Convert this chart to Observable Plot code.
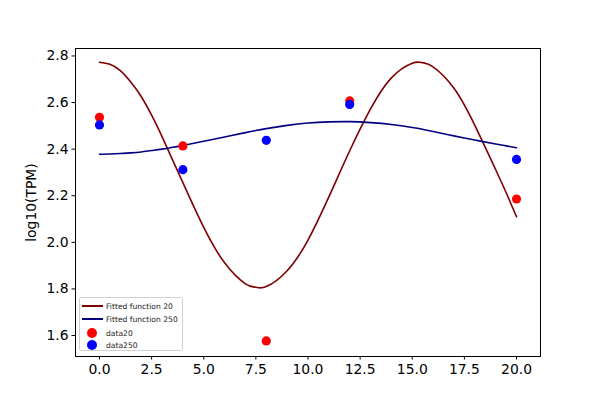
<!DOCTYPE html>
<html>
<head>
<meta charset="utf-8">
<script src="https://cdn.jsdelivr.net/npm/d3@7"></script>
<script src="https://cdn.jsdelivr.net/npm/@observablehq/plot@0.6"></script>
<style>
  html, body { margin: 0; padding: 0; background: #fff; }
  #wrap { position: relative; width: 600px; height: 400px; font-family: "DejaVu Sans", sans-serif; }
  #legend {
    position: absolute; left: 79px; top: 297px; width: 104px; height: 54px;
    border: 1px solid #d0d0d0; border-radius: 2px; background: rgba(255,255,255,0.8);
    box-sizing: border-box; font-size: 7.6px; color: #222;
  }
  .row { position: absolute; left: 0; height: 10px; display: flex; align-items: center; }
  .row .h { width: 22px; margin-left: 1px; display: flex; justify-content: center; align-items: center; }
  .row .ln { width: 21px; height: 2px; }
  .row .dt { width: 10px; height: 10px; border-radius: 50%; }
  .row .t { margin-left: 3px; white-space: nowrap; }
</style>
</head>
<body>
<div id="wrap"></div>
<script>
// fitted curves
const fitX = [0,0.5,1,1.5,2,2.5,3,4,5,6,7,7.5,8,9,10,11,12,13,14,15,15.5,16,17,18,19,19.5,20];
const fit20 = [2.773,2.764,2.737,2.688,2.626,2.546,2.454,2.256,2.064,1.912,1.822,1.807,1.810,1.878,2.010,2.195,2.393,2.573,2.706,2.769,2.771,2.753,2.661,2.502,2.312,2.214,2.110];
const fit250 = [2.378,2.379,2.381,2.384,2.388,2.394,2.400,2.416,2.434,2.452,2.471,2.480,2.488,2.502,2.512,2.517,2.518,2.514,2.506,2.493,2.485,2.476,2.457,2.439,2.422,2.414,2.406];
// measured points
const dataX = [0,4,8,12,20];
const data20 = [2.537,2.414,1.577,2.607,2.186];
const data250 = [2.504,2.312,2.438,2.592,2.356];
// ticks
const xTicks = [0,2.5,5,7.5,10,12.5,15,17.5,20];
const yTicks = [1.6,1.8,2.0,2.2,2.4,2.6,2.8];
const series = [
  {name: "Fitted function 20", color: "#800000", kind: "line"},
  {name: "Fitted function 250", color: "#000080", kind: "line"},
  {name: "data20", color: "#ff0000", kind: "dot"},
  {name: "data250", color: "#0000ff", kind: "dot"}
];

const line20 = fitX.map((x, i) => ({x, y: fit20[i]}));
const line250 = fitX.map((x, i) => ({x, y: fit250[i]}));
const pts20 = dataX.map((x, i) => ({x, y: data20[i]}));
const pts250 = dataX.map((x, i) => ({x, y: data250[i]}));

const chart = Plot.plot({
  width: 600,
  height: 400,
  marginLeft: 75,
  marginRight: 60,
  marginTop: 48,
  marginBottom: 44,
  style: {background: "#fff", fontFamily: "DejaVu Sans, sans-serif", fontSize: "13.9px", color: "#000"},
  x: {domain: [-1.15, 21.15]},
  y: {domain: [1.51, 2.832]},
  marks: [
    Plot.axisX({ticks: xTicks, tickFormat: d3.format(".1f"), tickSize: 3.5, tickPadding: 4.5, label: null, fontSize: 13.9}),
    Plot.axisY({ticks: yTicks, tickFormat: d3.format(".1f"), tickSize: 3.5, tickPadding: 3.5, label: "log10(TPM)", labelAnchor: "center", labelArrow: "none", labelOffset: 49, fontSize: 13.9}),
    Plot.line(line20, {x: "x", y: "y", stroke: series[0].color, strokeWidth: 1.6, curve: "natural"}),
    Plot.line(line250, {x: "x", y: "y", stroke: series[1].color, strokeWidth: 1.6, curve: "natural"}),
    Plot.dot(pts20, {x: "x", y: "y", fill: series[2].color, r: 4.6}),
    Plot.dot(pts250, {x: "x", y: "y", fill: series[3].color, r: 4.6}),
    Plot.frame({stroke: "#000", strokeWidth: 1})
  ]
});

const wrap = document.getElementById("wrap");
wrap.appendChild(chart);

const legend = document.createElement("div");
legend.id = "legend";
const rowTops = [3, 16, 30, 42];
series.forEach((s, i) => {
  const row = document.createElement("div");
  row.className = "row";
  row.style.top = rowTops[i] + "px";
  const h = document.createElement("div");
  h.className = "h";
  const sw = document.createElement("div");
  sw.className = s.kind === "line" ? "ln" : "dt";
  sw.style.background = s.color;
  h.appendChild(sw);
  const t = document.createElement("span");
  t.className = "t";
  t.textContent = s.name;
  row.appendChild(h);
  row.appendChild(t);
  legend.appendChild(row);
});
wrap.appendChild(legend);
</script>
</body>
</html>
